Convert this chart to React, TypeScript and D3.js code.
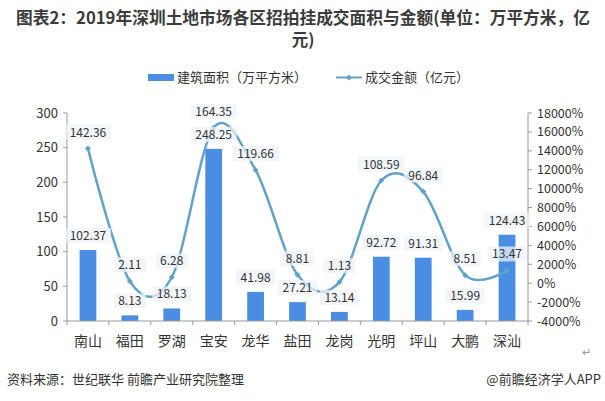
import React from "react";
import * as d3 from "d3";

const width = 605;
const height = 401;

const districts = ["南山", "福田", "罗湖", "宝安", "龙华", "盐田", "龙岗", "光明", "坪山", "大鹏", "深汕"];
const areaValues = [102.37, 8.13, 18.13, 248.25, 41.98, 27.21, 13.14, 92.72, 91.31, 15.99, 124.43];
const amountValues = [142.36, 2.11, 6.28, 164.35, 119.66, 8.81, 1.13, 108.59, 96.84, 8.51, 13.47];
const leftTicks = [0, 50, 100, 150, 200, 250, 300];
const rightTicks = [-40, -20, 0, 20, 40, 60, 80, 100, 120, 140, 160, 180];

const barColor = "#4a8ee4";
const lineColor = "#62a2c9";
const axisColor = "#999";
const textColor = "#333";
const font = "'Noto Sans CJK SC', 'Noto Sans', sans-serif";

const margin = { left: 67, right: 77, top: 113, bottom: 80 };

function Label({ x, y, text }: { x: number; y: number; text: string }) {
  const w = text.length * 7 + 4;
  return (
    <g>
      <rect x={x - w / 2} y={y - 9} width={w} height={15} fill="#eef3f9" opacity={0.75} />
      <text x={x} y={y + 3} textAnchor="middle" fontSize={12} fill={textColor}>
        {text}
      </text>
    </g>
  );
}

export default function App() {
  const x = d3
    .scaleBand()
    .domain(districts)
    .range([margin.left, width - margin.right])
    .paddingInner(0.6)
    .paddingOuter(0.3);
  const step = x.step();
  const plotLeft = margin.left;
  const plotRight = width - margin.right;

  const yLeft = d3.scaleLinear().domain([0, 300]).range([height - margin.bottom, margin.top]);
  const yRight = d3.scaleLinear().domain([-40, 180]).range([height - margin.bottom, margin.top]);

  const cx = (d: string) => (x(d) as number) + x.bandwidth() / 2;

  // Excel-style smoothed line
  const line = d3
    .line<number>()
    .x((_, i) => cx(districts[i]))
    .y((v) => yRight(v))
    .curve(d3.curveCatmullRom.alpha(0));

  const baseY = yLeft(0);

  return (
    <svg width={width} height={height} style={{ position: "absolute", left: 0, top: 0, background: "#fff" }} fontFamily={font}>
      <text x={303} y={24} textAnchor="middle" fontSize={16.5} fontWeight="bold" fill="#3b3b3b" textLength={574} lengthAdjust="spacingAndGlyphs">
        图表2：2019年深圳土地市场各区招拍挂成交面积与金额(单位：万平方米，亿
      </text>
      <text x={303} y={46} textAnchor="middle" fontSize={16.5} fontWeight="bold" fill="#3b3b3b">
        元)
      </text>

      {/* legend */}
      <rect x={148} y={74} width={26} height={7} fill={barColor} />
      <text x={177} y={82} fontSize={13} fill={textColor}>建筑面积（万平方米）</text>
      <line x1={336} x2={362} y1={77.5} y2={77.5} stroke={lineColor} strokeWidth={2} />
      <path d="M349,74.5 L352,77.5 L349,80.5 L346,77.5 Z" fill={lineColor} />
      <text x={365} y={82} fontSize={13} fill={textColor}>成交金额（亿元）</text>

      {/* left axis */}
      <line x1={plotLeft} x2={plotLeft} y1={yLeft(300)} y2={baseY} stroke={axisColor} />
      {leftTicks.map((t) => (
        <g key={t}>
          <line x1={plotLeft - 4} x2={plotLeft} y1={yLeft(t)} y2={yLeft(t)} stroke={axisColor} />
          <text x={plotLeft - 9} y={yLeft(t) + 4.5} textAnchor="end" fontSize={13} fill={textColor}>
            {t}
          </text>
        </g>
      ))}

      {/* right axis */}
      <line x1={plotRight} x2={plotRight} y1={yRight(180)} y2={yRight(-40)} stroke={axisColor} />
      {rightTicks.map((t) => (
        <g key={t}>
          <line x1={plotRight} x2={plotRight + 4} y1={yRight(t)} y2={yRight(t)} stroke={axisColor} />
          <text x={plotRight + 9} y={yRight(t) + 4.5} fontSize={12.5} fill={textColor}>
            {`${t * 100}%`}
          </text>
        </g>
      ))}

      {/* bars */}
      {districts.map((d, i) => (
        <rect key={d} x={x(d)} y={yLeft(areaValues[i])} width={x.bandwidth()} height={baseY - yLeft(areaValues[i])} fill={barColor} />
      ))}

      {/* x axis */}
      <line x1={plotLeft} x2={plotRight} y1={baseY} y2={baseY} stroke={axisColor} />
      {d3.range(districts.length + 1).map((i) => (
        <line key={i} x1={plotLeft + i * step} x2={plotLeft + i * step} y1={baseY} y2={baseY + 4} stroke={axisColor} />
      ))}
      {districts.map((d) => (
        <text key={d} x={cx(d)} y={baseY + 25} textAnchor="middle" fontSize={14} fill={textColor}>
          {d}
        </text>
      ))}

      {/* line */}
      <path d={line(amountValues) || ""} fill="none" stroke={lineColor} strokeWidth={2.5} />
      {amountValues.map((v, i) => {
        const px = cx(districts[i]);
        const py = yRight(v);
        return <path key={i} d={`M${px},${py - 3} L${px + 3},${py} L${px},${py + 3} L${px - 3},${py} Z`} fill={lineColor} />;
      })}

      {/* labels */}
      {districts.map((d, i) => (
        <Label key={"a" + d} x={cx(d)} y={yLeft(areaValues[i]) - 13} text={areaValues[i].toFixed(2)} />
      ))}
      {districts.map((d, i) => (
        <Label key={"b" + d} x={cx(d)} y={yRight(amountValues[i]) - 15} text={amountValues[i].toFixed(2)} />
      ))}

      <text x={582} y={356} fontSize={11} fill="#999">↵</text>
      <text x={7} y={384} fontSize={13} fill={textColor}>资料来源：世纪联华 前瞻产业研究院整理</text>
      <text x={601} y={384} textAnchor="end" fontSize={13} fill={textColor}>@前瞻经济学人APP</text>
    </svg>
  );
}
